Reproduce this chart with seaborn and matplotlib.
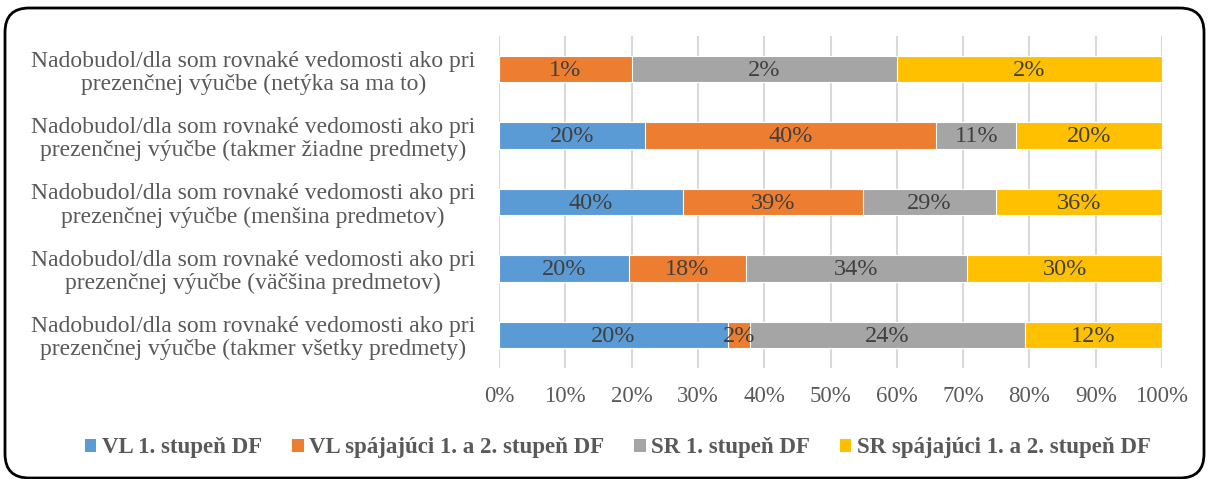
import numpy as np
import pandas as pd
import matplotlib.pyplot as plt
import seaborn as sns
from matplotlib.patches import FancyBboxPatch, Patch

sns.set_style("white")
plt.rcParams['font.family'] = ['Liberation Serif', 'DejaVu Serif']

# Data
categories = [
    'Nadobudol/dla som rovnaké vedomosti ako pri\nprezenčnej výučbe (netýka sa ma to)',
    'Nadobudol/dla som rovnaké vedomosti ako pri\nprezenčnej výučbe (takmer žiadne predmety)',
    'Nadobudol/dla som rovnaké vedomosti ako pri\nprezenčnej výučbe (menšina predmetov)',
    'Nadobudol/dla som rovnaké vedomosti ako pri\nprezenčnej výučbe (väčšina predmetov)',
    'Nadobudol/dla som rovnaké vedomosti ako pri\nprezenčnej výučbe (takmer všetky predmety)',
]
series_names = ['VL 1. stupeň DF', 'VL spájajúci 1. a 2. stupeň DF',
                'SR 1. stupeň DF', 'SR spájajúci 1. a 2. stupeň DF']
vl_1 = [0, 20, 40, 20, 20]
vl_12 = [1, 40, 39, 18, 2]
sr_1 = [2, 11, 29, 34, 24]
sr_12 = [2, 20, 36, 30, 12]
colors = ['#5B9BD5', '#ED7D31', '#A5A5A5', '#FFC000']

vals = np.array([vl_1, vl_12, sr_1, sr_12], dtype=float)
shares = vals / vals.sum(axis=0) * 100
cum = np.cumsum(shares, axis=0)

fig = plt.figure(figsize=(12.09, 4.79), dpi=100)
ax = fig.add_axes([499 / 1209, 1 - 368 / 479, (1162 - 499) / 1209, (368 - 36) / 479])

# stacked bars: draw cumulative totals from the last series to the first
for i in range(len(series_names) - 1, -1, -1):
    df = pd.DataFrame({'cat': categories, 'val': cum[i]})
    sns.barplot(data=df, x='val', y='cat', orient='h', color=colors[i],
                saturation=1, width=0.4, edgecolor='white', linewidth=0.8, ax=ax)

# value labels
for i in range(len(series_names)):
    for j in range(len(categories)):
        if vals[i, j] == 0:
            continue
        xc = cum[i, j] - shares[i, j] / 2
        ax.text(xc, j + 0.02, f'{int(vals[i, j])}%', ha='center', va='center',
                fontsize=17.5, color='#404040')

ax.set_xlim(0, 100)
ax.set_ylim(4.5, -0.5)
ax.set_xticks(np.arange(0, 101, 10))
ax.set_xticklabels([f'{v}%' for v in range(0, 101, 10)])
ax.xaxis.grid(True, color='#D9D9D9', linewidth=1.5)
ax.set_axisbelow(True)
ax.set_xlabel('')
ax.set_ylabel('')
for s in ax.spines.values():
    s.set_visible(False)
ax.tick_params(axis='x', length=0, pad=13, labelsize=16.5, labelcolor='#595959')
ax.tick_params(axis='y', length=0, pad=177, labelsize=17, labelcolor='#595959')
for lab in ax.get_yticklabels():
    lab.set_ha('center')
    lab.set_multialignment('center')
    lab.set_linespacing(1.12)

handles = [Patch(facecolor=c, edgecolor='none') for c in colors]
leg = fig.legend(handles, series_names, loc='center', ncol=4,
                 bbox_to_anchor=(618 / 1209, 1 - 448 / 479), frameon=False,
                 handlelength=0.5, handleheight=0.5, handletextpad=0.25,
                 columnspacing=1.3,
                 prop={'weight': 'bold', 'size': 16.5})
for t in leg.get_texts():
    t.set_color('#595959')

# rounded frame around the chart
frame = FancyBboxPatch((5 / 1209, 1 / 479), 1199 / 1209, 470 / 479,
                       boxstyle='round,pad=0,rounding_size=0.02',
                       transform=fig.transFigure, fill=False,
                       edgecolor='black', linewidth=2, mutation_aspect=1209 / 479)
fig.patches.append(frame)

fig.savefig('out.png', dpi=100)
